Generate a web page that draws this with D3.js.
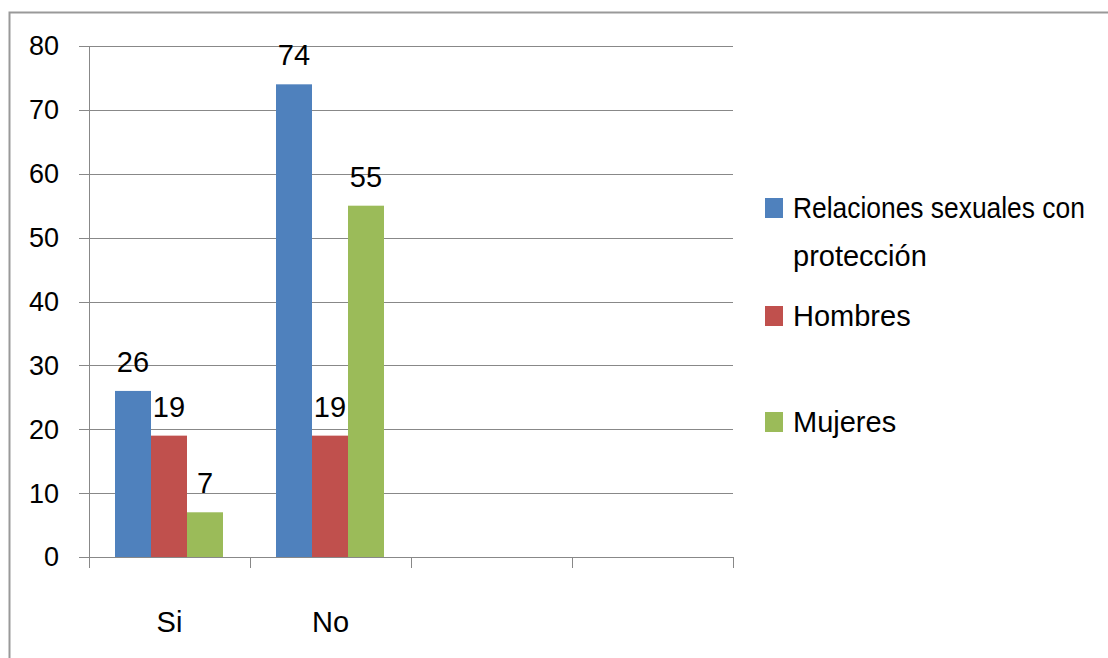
<!DOCTYPE html>
<html>
<head>
<meta charset="utf-8">
<script src="https://cdn.jsdelivr.net/npm/d3@7.9.0/dist/d3.min.js"></script>
<style>
  body { margin: 0; background: #fff; }
  svg text { font-family: "Liberation Sans Narrow", "Liberation Sans", sans-serif; fill: #000; }
</style>
</head>
<body>
<svg id="chart" width="1108" height="658"></svg>
<script>
const categories = ['Si', 'No', '', ''];
const seriesNames = ['Relaciones sexuales con protección', 'Hombres', 'Mujeres'];
const proteccion = [26, 74, null, null];
const hombres = [19, 19, null, null];
const mujeres = [7, 55, null, null];
const yTicks = [0, 10, 20, 30, 40, 50, 60, 70, 80];
const colors = ['#4f81bd', '#c0504d', '#9bbb59'];

const svg = d3.select('#chart');
const margin = { left: 89, right: 375, top: 46, bottom: 101 };
const width = 1108 - margin.left - margin.right;
const height = 658 - margin.top - margin.bottom;

// outer frame (only top and left show in the source picture)
svg.append('path')
    .attr('d', 'M9.5,658 V12.5 H1108')
    .attr('fill', 'none').attr('stroke', '#999').attr('stroke-width', 2);

const g = svg.append('g').attr('transform', `translate(${margin.left},${margin.top})`);

const x0 = d3.scaleBand().domain(d3.range(categories.length)).range([0, width]).paddingInner(0).paddingOuter(0);
const x1 = d3.scaleBand().domain(d3.range(seriesNames.length)).range([26, x0.bandwidth() - 27]).padding(0);
const y = d3.scaleLinear().domain([0, 80]).range([height, 0]);

// gridlines
g.selectAll('.grid').data(yTicks).join('line')
    .attr('x1', -10).attr('x2', width)
    .attr('y1', d => Math.round(y(d)) + 0.5).attr('y2', d => Math.round(y(d)) + 0.5)
    .attr('stroke', '#888').attr('stroke-width', 1);

// y axis
g.append('line').attr('x1', 0.5).attr('x2', 0.5).attr('y1', 0).attr('y2', height)
    .attr('stroke', '#888');
g.selectAll('.ylab').data(yTicks).join('text')
    .attr('x', -30).attr('y', d => y(d)).attr('dy', '0.35em')
    .attr('text-anchor', 'end').attr('font-size', 27)
    .text(d => d);

// category ticks
const tickXs = d3.range(categories.length + 1).map(i => i * x0.step());
g.selectAll('.xtick').data(tickXs).join('line')
    .attr('x1', d => Math.round(d) + 0.5).attr('x2', d => Math.round(d) + 0.5)
    .attr('y1', height).attr('y2', height + 11)
    .attr('stroke', '#888');
g.selectAll('.xlab').data(categories).join('text')
    .attr('x', (d, i) => x0(i) + x0.bandwidth() / 2).attr('y', height + 75)
    .attr('text-anchor', 'middle').attr('font-size', 29)
    .text(d => d);

// bars
const series = [proteccion, hombres, mujeres];
series.forEach((vals, s) => {
    const pts = vals.map((v, i) => ({ v, i })).filter(d => d.v != null);
    g.selectAll(`.bar${s}`).data(pts).join('rect')
        .attr('x', d => x0(d.i) + x1(s))
        .attr('width', x1.bandwidth())
        .attr('y', d => y(d.v))
        .attr('height', d => height - y(d.v))
        .attr('fill', colors[s]);
    g.selectAll(`.lab${s}`).data(pts).join('text')
        .attr('x', d => x0(d.i) + x1(s) + x1.bandwidth() / 2)
        .attr('y', d => y(d.v) - 19)
        .attr('text-anchor', 'middle').attr('font-size', 29)
        .text(d => d.v);
});

// legend
const legendYs = [208, 316, 422];
const legendLines = [['Relaciones sexuales con', 'protección'], ['Hombres'], ['Mujeres']];
const lg = svg.append('g');
legendLines.forEach((lines, i) => {
    lg.append('rect').attr('x', 765).attr('y', legendYs[i] - 10).attr('width', 18).attr('height', 20)
        .attr('fill', colors[i]);
    lines.forEach((t, k) => {
        // the long first line is squeezed sideways to fit the frame, like the source
        const sx = (i === 0 && k === 0) ? 0.91 : 1;
        lg.append('text')
            .attr('transform', `translate(793,${legendYs[i] + k * 48}) scale(${sx},1)`)
            .attr('dy', '0.35em')
            .attr('font-size', 29).text(t);
    });
});
</script>
</body>
</html>
